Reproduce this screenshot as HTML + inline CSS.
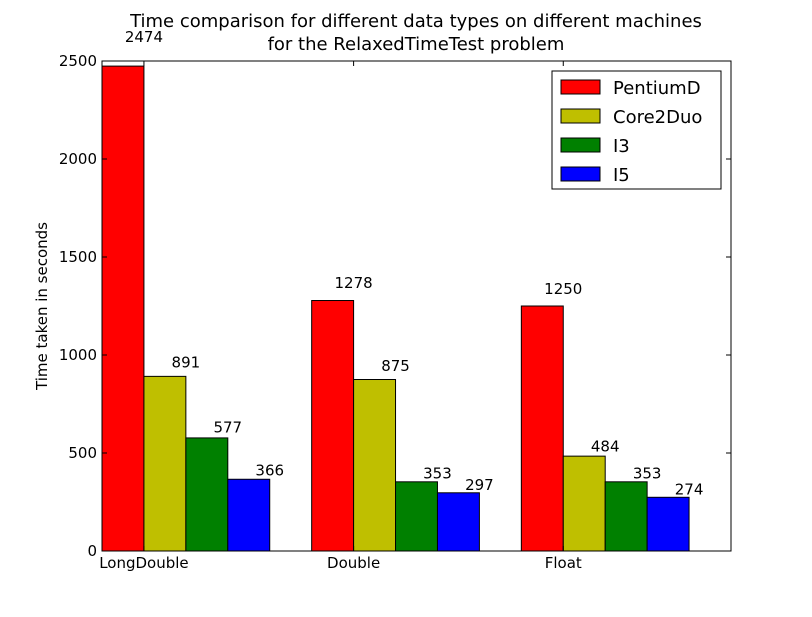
<!DOCTYPE html>
<html><head><meta charset="utf-8"><style>
body{margin:0;background:#fff;}
svg text{font-family:"DejaVu Sans","Liberation Sans",sans-serif;}
</style></head><body>
<svg id="chart" width="812" height="612" xmlns="http://www.w3.org/2000/svg">
<rect width="812" height="612" fill="#fff"/>
<text x="416" y="27" font-size="18" text-anchor="middle">Time comparison for different data types on different machines</text>
<text x="416" y="50" font-size="18" text-anchor="middle">for the RelaxedTimeTest problem</text>
<text transform="translate(47,306) rotate(-90)" font-size="15" text-anchor="middle">Time taken in seconds</text>
<g id="marks"></g>
<g id="axes"></g>
</svg>
<script>
const categories = ["LongDouble","Double","Float"];
const seriesNames = ["PentiumD","Core2Duo","I3","I5"];
const seriesColors = ["#ff0000","#bfbf00","#008000","#0000ff"];
const pentiumD = [2474,1278,1250];
const core2Duo = [891,875,484];
const i3 = [577,353,353];
const i5 = [366,297,274];
const yTicks = [0,500,1000,1500,2000,2500];

const series = [pentiumD, core2Duo, i3, i5];
const L=102,R=731,T=61,B=551, xMin=0,xMax=3,yMin=0,yMax=2500, barW=0.2;
const NS="http://www.w3.org/2000/svg";
const xs=v=>L+(v-xMin)/(xMax-xMin)*(R-L);
const ys=v=>B-(v-yMin)/(yMax-yMin)*(B-T);
function mk(tag,attrs,parent){const e=document.createElementNS(NS,tag);for(const k in attrs)e.setAttribute(k,attrs[k]);parent.appendChild(e);return e;}
const marks=document.getElementById('marks'), axes=document.getElementById('axes');
series.forEach((vals,s)=>{
  vals.forEach((v,i)=>{
    const x0=xs(i+s*barW), x1=xs(i+(s+1)*barW);
    const r=mk('rect',{x:x0,y:ys(v),width:x1-x0,height:ys(0)-ys(v),fill:seriesColors[s],stroke:'#000','stroke-width':1},marks);
    
    
    const t=mk('text',{x:x1,y:ys(v*1.05),'font-size':15,'text-anchor':'middle'},marks);
    t.textContent=v;
    
    
  });
});
const frame=mk('rect',{x:L,y:T,width:R-L,height:B-T,fill:'none',stroke:'#000','stroke-width':1},axes);


yTicks.forEach(v=>{
  const y=ys(v);
  mk('line',{x1:L,x2:L+5,y1:y,y2:y,stroke:'#000'},axes);
  mk('line',{x1:R,x2:R-5,y1:y,y2:y,stroke:'#000'},axes);
  const t=mk('text',{x:L-5,y:y+5,'font-size':15,'text-anchor':'end'},axes);
  t.textContent=v;
  
  
});
categories.forEach((c,i)=>{
  const x=xs(i+barW);
  mk('line',{x1:x,x2:x,y1:B,y2:B-5,stroke:'#000'},axes);
  mk('line',{x1:x,x2:x,y1:T,y2:T+5,stroke:'#000'},axes);
  const t=mk('text',{x:x,y:B+17,'font-size':15,'text-anchor':'middle'},axes);
  t.textContent=c;
  
  
});
const lg=mk('g',{},axes);


mk('rect',{x:552,y:71,width:169,height:118,fill:'#fff',stroke:'#000'},lg);
seriesNames.forEach((n,s)=>{
  const y=87+s*29;
  const sw=mk('rect',{x:561,y:y-7,width:39,height:14,fill:seriesColors[s],stroke:'#000'},lg);
  
  
  const t=mk('text',{x:613,y:y+7,'font-size':18},lg);
  t.textContent=n;
  
  
});
</script>
</body></html>
